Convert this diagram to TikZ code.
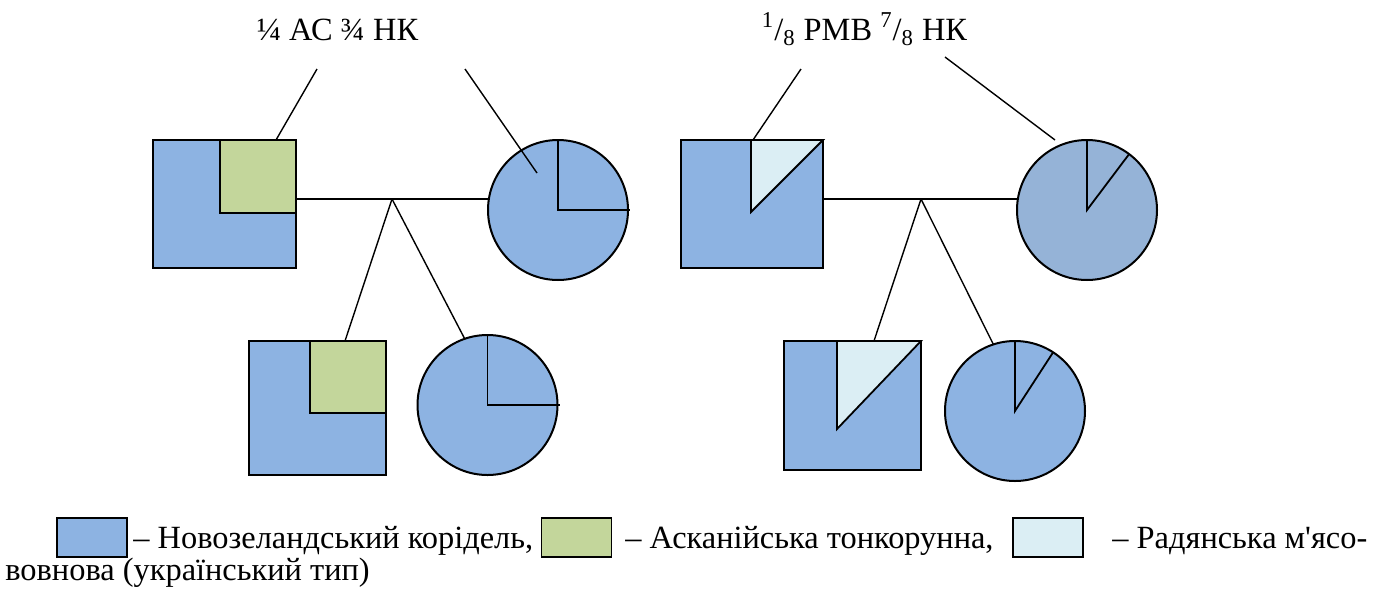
\documentclass[tikz,border=0pt]{standalone}
\usepackage{fontspec}
\setmainfont{Liberation Serif}[Ligatures=TeXOff]
\definecolor{nkblue}{HTML}{8DB3E2}
\definecolor{nkgray}{HTML}{95B3D7}
\definecolor{asgreen}{HTML}{C3D69B}
\definecolor{rmvcyan}{HTML}{DBEEF4}
\begin{document}
\begin{tikzpicture}[x=0.5pt,y=-0.5pt,
    ram/.style={draw,line width=1pt,fill=nkblue,rectangle,inner sep=0pt,outer sep=0pt},
    ewe/.style={draw,line width=1pt,fill=nkblue,circle,minimum size=70pt,inner sep=0pt,outer sep=0pt},
    link/.style={line width=0.7pt},
    keybox/.style={draw,line width=0.8pt,rectangle,minimum width=35pt,minimum height=19.5pt,inner sep=0pt},
    txt/.style={inner sep=0pt,font=\fontsize{16.2}{19}\selectfont}]
  \useasboundingbox (0,0) rectangle (1373,590);
  % left family
  \node[txt,anchor=base] (lab1) at (337.5,40) {¼ АС ¾ НК};
  \node[ram,minimum width=71.5pt,minimum height=64pt] (f1) at (224.5,204) {};
  \filldraw[fill=asgreen,line width=0.9pt] (f1.north east) rectangle ++(-76,73);
  \node[ewe] (m1) at (558,210) {};
  \draw[line width=0.9pt] (m1.north) -- (m1.center) -- ++(72,0);
  \node[ram,minimum width=68.5pt,minimum height=67pt] (s1) at (317.5,408) {};
  \filldraw[fill=asgreen,line width=0.9pt] (s1.north east) rectangle ++(-76,72);
  \node[ewe] (d1) at (487.5,405) {};
  \draw[line width=0.9pt] (d1.north) -- (d1.center) -- ++(72,0);
  \coordinate (u1) at (392,199);
  \draw[line width=0.8pt] (f1.east |- u1) -- (m1.west |- u1);
  \draw[link] (317,69) -- (276,140);
  \draw[link] (465,69) -- (537,173);
  \draw[link] (u1) -- (345,341);
  \draw[link] (u1) -- (d1.109);
  % right family
  \node[txt,anchor=base] (lab2) at (864.5,40) {\textsuperscript{1}/\textsubscript{8} РМВ \textsuperscript{7}/\textsubscript{8} НК};
  \node[ram,minimum width=71pt,minimum height=64pt] (f2) at (752,204) {};
  \filldraw[fill=rmvcyan,line width=0.9pt] (f2.north east) -- ++(-72,0) -- ++(0,72) -- cycle;
  \node[ewe,fill=nkgray] (m2) at (1087,210) {};
  \draw[line width=0.9pt] (m2.north) -- (m2.center) -- (m2.53);
  \node[ram,minimum width=68.5pt,minimum height=64.5pt] (s2) at (852.5,405.5) {};
  \filldraw[fill=rmvcyan,line width=0.9pt] (s2.north east) -- ++(-84,0) -- ++(0,88) -- cycle;
  \node[ewe] (d2) at (1015,411) {};
  \draw[line width=0.9pt] (d2.north) -- (d2.center) -- (d2.57);
  \coordinate (u2) at (921,199);
  \draw[line width=0.8pt] (f2.east |- u2) -- (m2.west |- u2);
  \draw[link] (801,69) -- (753,140);
  \draw[link] (945,57) -- (1055,140);
  \draw[link] (u2) -- (874,341);
  \draw[link] (u2) -- (d2.108);
  % legend
  \node[keybox,fill=nkblue] (k1) at (92,537.5) {};
  \node[txt,anchor=base west] (t1) at (133,548) {– Новозеландський корідель,};
  \node[keybox,fill=asgreen] (k2) at (576.5,537.5) {};
  \node[txt,anchor=base west] (t2) at (625,548) {– Асканійська тонкорунна,};
  \node[keybox,fill=rmvcyan] (k3) at (1048,537.5) {};
  \node[txt,anchor=base west] (t3) at (1112,548) {– Радянська м'ясо-};
  \node[txt,anchor=base west] (t4) at (5,580) {вовнова (український тип)};
\end{tikzpicture}
\end{document}
